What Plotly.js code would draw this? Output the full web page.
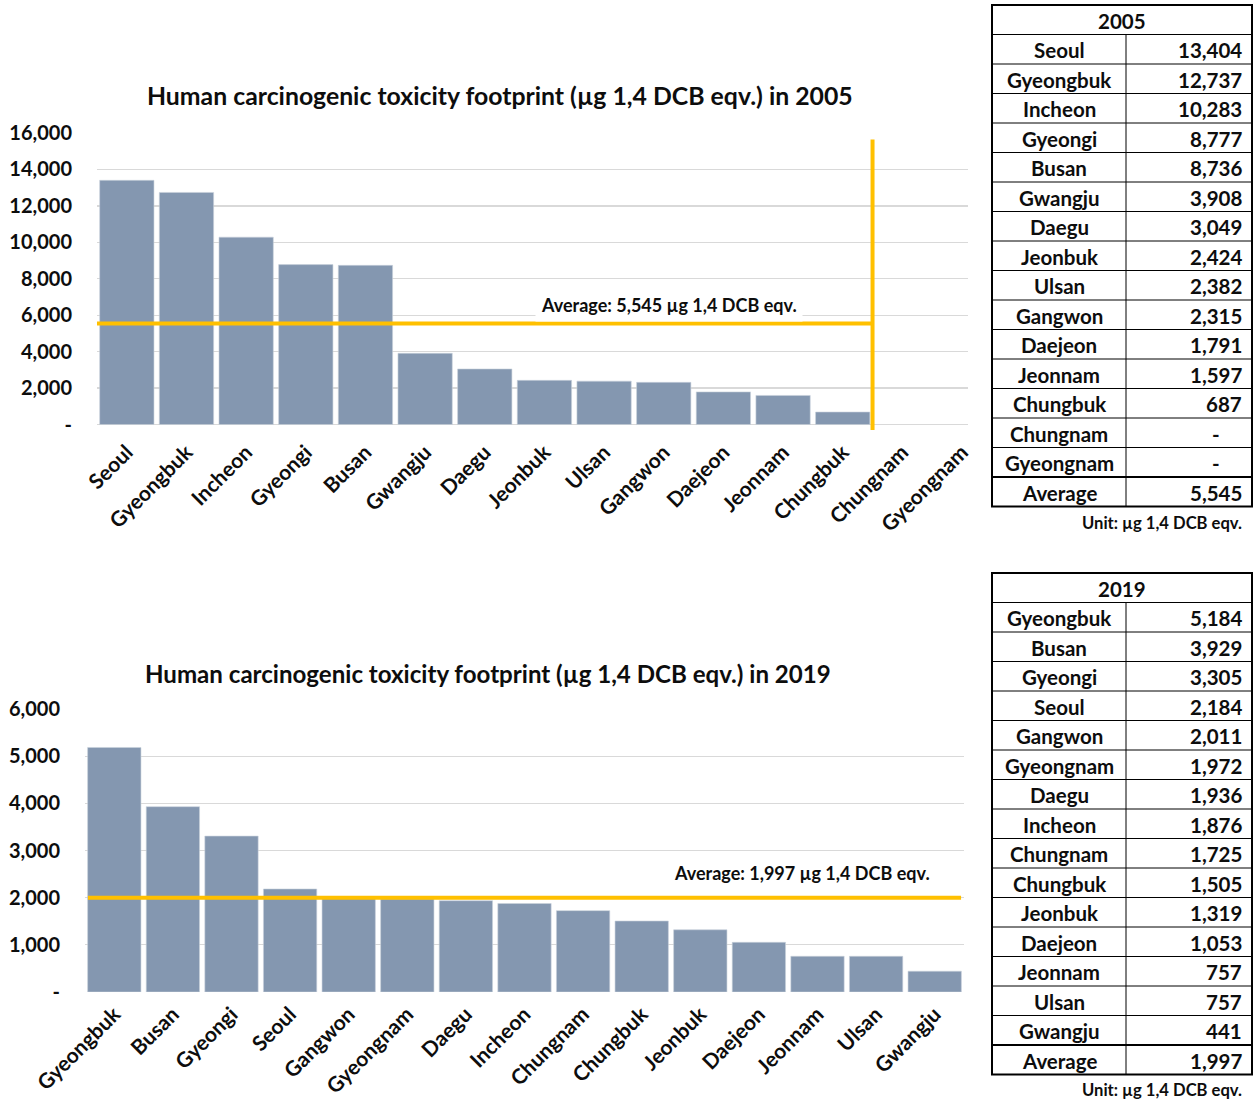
<!DOCTYPE html>
<html>
<head>
<meta charset="utf-8">
<script src="https://cdn.plot.ly/plotly-3.0.1.min.js"></script>
<style>html,body{margin:0;padding:0;background:#fff;}#chart{width:1258px;height:1101px;}</style>
</head>
<body>
<div id="chart"></div>
<script>
// ---- data ----
const regions2005 = ["Seoul","Gyeongbuk","Incheon","Gyeongi","Busan","Gwangju","Daegu","Jeonbuk","Ulsan","Gangwon","Daejeon","Jeonnam","Chungbuk","Chungnam","Gyeongnam"];
const values2005 = [13404,12737,10283,8777,8736,3908,3049,2424,2382,2315,1791,1597,687,null,null];
const average2005 = 5545;

const regions2019 = ["Gyeongbuk","Busan","Gyeongi","Seoul","Gangwon","Gyeongnam","Daegu","Incheon","Chungnam","Chungbuk","Jeonbuk","Daejeon","Jeonnam","Ulsan","Gwangju"];
const values2019 = [5184,3929,3305,2184,2011,1972,1936,1876,1725,1505,1319,1053,757,757,441];
const average2019 = 1997;

const yTicks2005 = [0,2000,4000,6000,8000,10000,12000,14000,16000];
const yTicks2019 = [0,1000,2000,3000,4000,5000,6000];
const unitText = "Unit: µg 1,4 DCB eqv.";

// ---- helpers ----
const W = 1258, H = 1101;
const px = v => v / W;
const py = v => 1 - v / H;
const fmt = v => (v === null || v === 0) ? "-" : v.toLocaleString("en-US");
const FONT = "Lato, 'Open Sans', sans-serif";
const BAR = "#8497B0", GOLD = "#FFC000", GRID = "#D9D9D9", TXT = "#0d0d0d";
const rowH = 29.5;

// table built from shapes + annotations
function buildTable(year, regs, vals, avg, top) {
  const L = 992, M = 1126, R = 1252;
  const rows = [["<b>" + year + "</b>", null, false]]
    .concat(regs.map((r, i) => ["<b>" + r + "</b>", "<b>" + fmt(vals[i]) + "</b>", vals[i] === null]))
    .concat([["<b>Average</b>", "<b>" + fmt(avg) + "</b>", false]]);
  const n = rows.length;
  const shapes = [];
  const anns = [];
  const tf = {family: FONT, size: 20.5, color: TXT};
  for (let i = 1; i < n; i++) {
    const yy = top + rowH * i;
    shapes.push({type: "line", xref: "paper", yref: "paper", x0: px(L), x1: px(R), y0: py(yy), y1: py(yy),
                 line: {color: "#000", width: i === n - 1 ? 2 : 1}});
  }
  shapes.push({type: "line", xref: "paper", yref: "paper", x0: px(M), x1: px(M), y0: py(top + rowH), y1: py(top + rowH * n),
               line: {color: "#000", width: 1}});
  shapes.push({type: "rect", xref: "paper", yref: "paper", x0: px(L), x1: px(R), y0: py(top + rowH * n), y1: py(top),
               line: {color: "#000", width: 2}});
  rows.forEach((row, i) => {
    const yc = py(top + rowH * (i + 0.5) + 1);
    if (row[1] === null) {
      anns.push({xref: "paper", yref: "paper", x: px((L + R) / 2), y: yc, xanchor: "center", yanchor: "middle",
                 showarrow: false, text: row[0], font: tf});
    } else {
      anns.push({xref: "paper", yref: "paper", x: px((L + M) / 2), y: yc, xanchor: "center", yanchor: "middle",
                 showarrow: false, text: row[0], font: tf});
      anns.push({xref: "paper", yref: "paper", x: px(row[2] ? R - 30 : R - 8), y: yc, xanchor: "right", yanchor: "middle",
                 showarrow: false, text: row[1], font: tf});
    }
  });
  return {shapes, anns};
}

const t2005 = buildTable("2005", regions2005, values2005, average2005, 5);
const t2019 = buildTable("2019", regions2019, values2019, average2019, 573);

const traces = [
  {type: "bar", x: regions2005, y: values2005, xaxis: "x", yaxis: "y",
   marker: {color: BAR, line: {color: "#c9d1dc", width: 0.6}}},
  {type: "bar", x: regions2019, y: values2019, xaxis: "x2", yaxis: "y2",
   marker: {color: BAR, line: {color: "#c9d1dc", width: 0.6}}}
];

const axisFont = {family: FONT, size: 21, color: TXT, weight: "bold"};
const yFont = {family: FONT, size: 20, color: TXT, weight: "bold"};
const nLast2005 = values2005.filter(v => v !== null).length;

const layout = {
  width: W, height: H,
  margin: {l: 0, r: 0, t: 0, b: 0},
  paper_bgcolor: "#fff", plot_bgcolor: "#fff",
  showlegend: false,
  bargap: 0.09,
  font: {family: FONT, color: TXT},
  xaxis: {domain: [px(97), px(968)], anchor: "y", type: "category", range: [-0.5, 14.1],
          tickangle: -45, tickfont: axisFont, showgrid: false, showline: false, ticks: "",
          ticklabelstandoff: 5, fixedrange: true},
  yaxis: {domain: [py(430), py(133)], anchor: "x", range: [-300, 16000],
          tickvals: yTicks2005, ticktext: yTicks2005.map(fmt), tickfont: yFont,
          showgrid: true, gridcolor: GRID, gridwidth: 1.3, zeroline: false, ticks: "",
          ticklabelstandoff: 24, fixedrange: true},
  xaxis2: {domain: [px(85), px(964)], anchor: "y2", type: "category", range: [-0.5, 14.5],
          tickangle: -45, tickfont: axisFont, showgrid: false, showline: false, ticks: "",
          ticklabelstandoff: 5, fixedrange: true},
  yaxis2: {domain: [py(992), py(709)], anchor: "x2", range: [0, 6000],
          tickvals: yTicks2019, ticktext: yTicks2019.map(fmt), tickfont: yFont,
          showgrid: true, gridcolor: GRID, gridwidth: 1.3, zeroline: false, ticks: "",
          ticklabelstandoff: 24, fixedrange: true},
  shapes: [
    {type: "line", xref: "x", yref: "y", x0: -0.5, x1: nLast2005 - 0.5, y0: average2005, y1: average2005,
     line: {color: GOLD, width: 4}},
    {type: "line", xref: "x", yref: "y", x0: nLast2005 - 0.5, x1: nLast2005 - 0.5, y0: -300, y1: 15650,
     line: {color: GOLD, width: 4}},
    {type: "line", xref: "x2", yref: "y2", x0: -0.45, x1: 14.45, y0: average2019, y1: average2019,
     line: {color: GOLD, width: 4}}
  ].concat(t2005.shapes).concat(t2019.shapes),
  annotations: [
    {xref: "paper", yref: "paper", x: px(500), y: py(96), xanchor: "center", yanchor: "middle", showarrow: false,
     text: "<b>Human carcinogenic toxicity footprint (µg 1,4 DCB eqv.) in 2005</b>", font: {family: FONT, size: 24.8, color: TXT}},
    {xref: "paper", yref: "paper", x: px(488), y: py(673), xanchor: "center", yanchor: "middle", showarrow: false,
     text: "<b>Human carcinogenic toxicity footprint (µg 1,4 DCB eqv.) in 2019</b>", font: {family: FONT, size: 24.1, color: TXT}},
    {xref: "paper", yref: "paper", x: px(669), y: py(305), xanchor: "center", yanchor: "middle", showarrow: false,
     bgcolor: "#fff", borderpad: 5,
     text: "<b>Average: " + fmt(average2005) + " µg 1,4 DCB eqv.</b>", font: {family: FONT, size: 18, color: TXT}},
    {xref: "paper", yref: "paper", x: px(802), y: py(873), xanchor: "center", yanchor: "middle", showarrow: false,
     bgcolor: "#fff", borderpad: 5,
     text: "<b>Average: " + fmt(average2019) + " µg 1,4 DCB eqv.</b>", font: {family: FONT, size: 18, color: TXT}},
    {xref: "paper", yref: "paper", x: px(1244), y: py(523), xanchor: "right", yanchor: "middle", showarrow: false,
     text: "<b>" + unitText + "</b>", font: {family: FONT, size: 16.6, color: TXT}},
    {xref: "paper", yref: "paper", x: px(1244), y: py(1090), xanchor: "right", yanchor: "middle", showarrow: false,
     text: "<b>" + unitText + "</b>", font: {family: FONT, size: 16.6, color: TXT}}
  ].concat(t2005.anns).concat(t2019.anns)
};

Plotly.newPlot("chart", traces, layout, {displayModeBar: false, staticPlot: true});
</script>
</body>
</html>
